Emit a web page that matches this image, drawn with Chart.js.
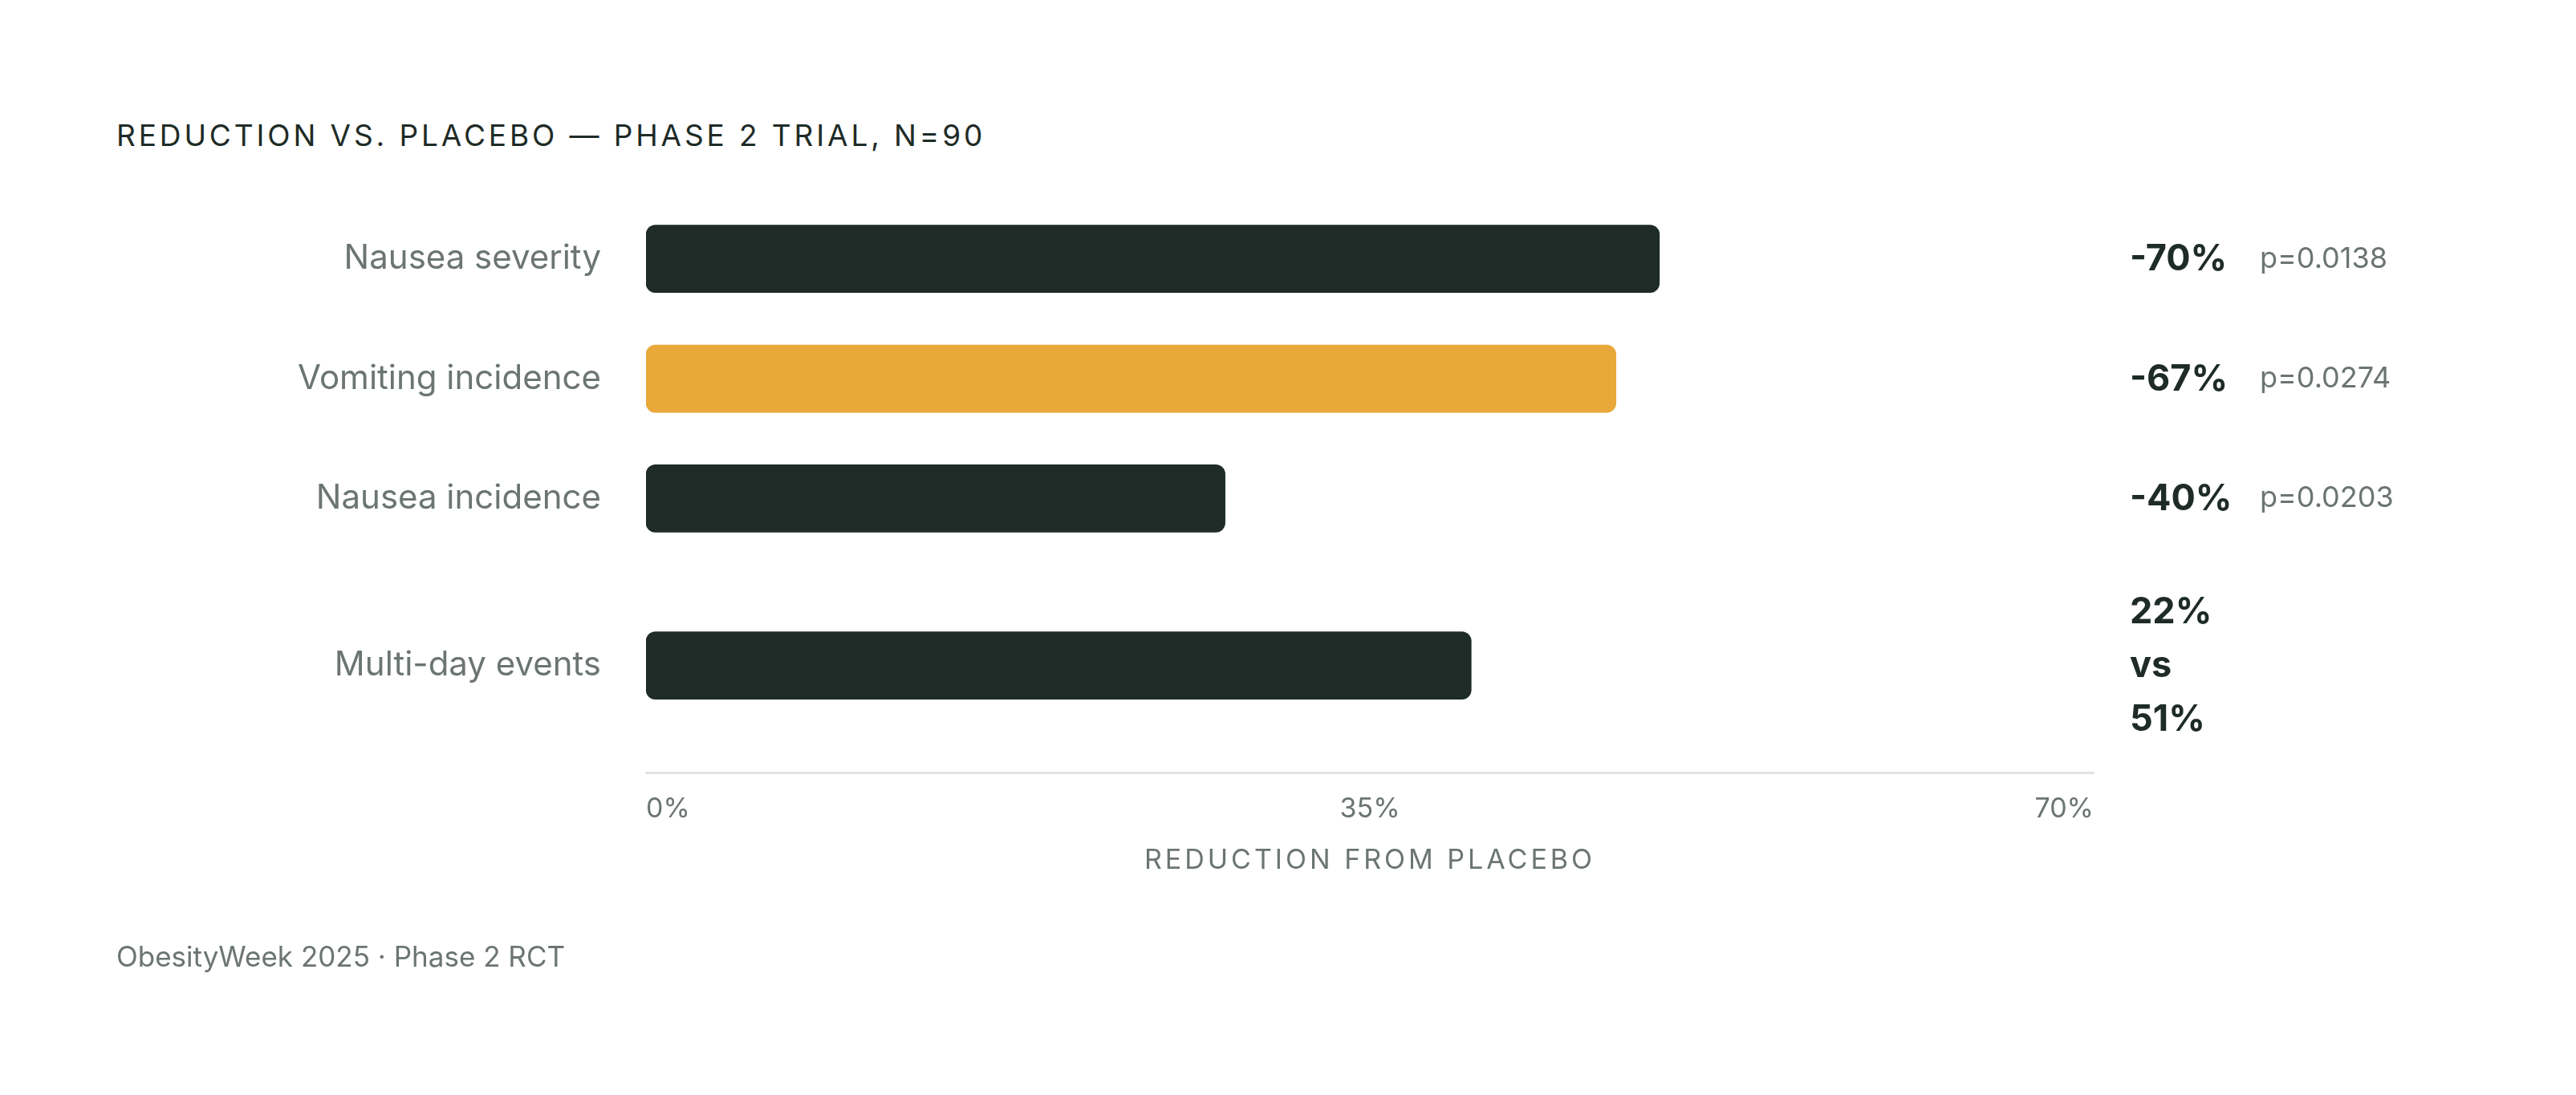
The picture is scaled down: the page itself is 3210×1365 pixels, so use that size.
<!DOCTYPE html>
<html>
<head>
<meta charset="utf-8">
<script src="https://cdn.jsdelivr.net/npm/chart.js@4.4.1/dist/chart.umd.min.js"></script>
<style>
  html, body { margin: 0; padding: 0; background: #ffffff; }
  #wrap { position: relative; width: 3210px; height: 1365px; overflow: hidden; background: #fff; }
  #chartBox { position: absolute; left: 0; top: 0; width: 3210px; height: 1365px; }
  .title { position: absolute; left: 145px; top: 150px; font-family: Inter, "DejaVu Sans", sans-serif; font-size: 37px; line-height: 37px; letter-spacing: 0.105em; color: #1e2b26; white-space: nowrap; }
  .footer { position: absolute; left: 145px; top: 1175px; font-family: Inter, "DejaVu Sans", sans-serif; font-size: 35px; line-height: 35px; color: #6b7571; white-space: nowrap; }
</style>
</head>
<body>
<div id="wrap">
  <div class="title">REDUCTION VS. PLACEBO — PHASE 2 TRIAL, N=90</div>
  <div id="chartBox"><canvas id="c"></canvas></div>
  <div class="footer">ObesityWeek 2025 · Phase 2 RCT</div>
</div>
<script>
// ---- data ----
const categories = ['Nausea severity', 'Vomiting incidence', 'Nausea incidence', 'Multi-day events'];
const reductions = [70, 67, 40, 57];
const valueLabels = [['-70%'], ['-67%'], ['-40%'], ['22%', 'vs', '51%']];
const pValues = ['p=0.0138', 'p=0.0274', 'p=0.0203', ''];
const highlighted = [false, true, false, false];
const tickLabels = ['0%', '35%', '70%'];
const axisTitle = 'REDUCTION FROM PLACEBO';

// ---- style / layout ----
const DARK = '#1e2b26';
const GOLD = '#e8a83a';
const GRAY = '#6b7571';
const FONT = 'Inter, "DejaVu Sans", sans-serif';
const ROW_BASE = 150, ROW_EXTRA_LINE = 59;

const rowHeights = valueLabels.map(l => ROW_BASE + (l.length - 1) * ROW_EXTRA_LINE);
const rowCenters = [];
let acc = 0;
rowHeights.forEach(h => { rowCenters.push(acc + h / 2); acc += h; });
const totalRows = acc;

const annotations = {
  id: 'annotations',
  afterDatasetsDraw(chart) {
    const ctx = chart.ctx;
    const meta = chart.getDatasetMeta(0);
    const area = chart.chartArea;
    ctx.save();
    meta.data.forEach((bar, i) => {
      const lines = valueLabels[i];
      const lh = 67;
      const y0 = bar.y - (lines.length - 1) * lh / 2 + 1;
      ctx.font = '700 45px ' + FONT;
      ctx.fillStyle = DARK;
      ctx.textAlign = 'left';
      ctx.textBaseline = 'middle';
      lines.forEach((t, k) => ctx.fillText(t, area.right + 45, y0 + k * lh));
      if (pValues[i]) {
        ctx.font = '400 36px ' + FONT;
        ctx.fillStyle = GRAY;
        ctx.fillText(pValues[i], area.right + 207, bar.y);
      }
    });
    ctx.restore();
  }
};

const spacedTitle = {
  id: 'spacedTitle',
  afterLayout(chart) {
    const s = chart.scales.x;
    if (s && !s._patched) {
      const orig = s.drawTitle;
      s.drawTitle = function () {
        const ctx = this.ctx;
        ctx.save();
        ctx.letterSpacing = '4px';
        orig.apply(this, arguments);
        ctx.restore();
      };
      s._patched = true;
    }
  }
};

new Chart(document.getElementById('c'), {
  type: 'bar',
  data: {
    datasets: [{
      data: reductions.map((v, i) => ({ x: v, y: rowCenters[i] })),
      backgroundColor: highlighted.map(h => h ? GOLD : DARK),
      borderRadius: 12,
      borderSkipped: false,
      barThickness: 84
    }]
  },
  options: {
    indexAxis: 'y',
    responsive: true,
    maintainAspectRatio: false,
    devicePixelRatio: 1,
    animation: false,
    layout: { padding: { left: 0, right: 601, top: 248, bottom: 252 } },
    plugins: { legend: { display: false }, tooltip: { enabled: false } },
    scales: {
      x: {
        type: 'linear',
        position: 'bottom',
        min: 0,
        max: 100,
        offset: false,
        afterBuildTicks: s => { s.ticks = [0, 50, 100].map(v => ({ value: v })); },
        afterFit: s => { s.height = 150; },
        grid: { display: false, drawTicks: false },
        border: { display: true, color: '#e2e2e2', width: 3 },
        ticks: {
          align: 'inner',
          padding: 25,
          color: GRAY,
          font: { family: FONT, size: 34 },
          callback: (v, i) => tickLabels[i]
        },
        title: {
          display: true,
          text: axisTitle,
          color: GRAY,
          font: { family: FONT, size: 34 },
          padding: { top: 0, bottom: 20 }
        }
      },
      y: {
        type: 'linear',
        reverse: true,
        offset: false,
        min: 0,
        max: totalRows,
        afterBuildTicks: s => { s.ticks = rowCenters.map(v => ({ value: v })); },
        afterFit: s => { s.width = 805; },
        grid: { display: false, drawTicks: false },
        border: { display: false },
        ticks: {
          autoSkip: false,
          padding: 56,
          color: GRAY,
          font: { family: FONT, size: 42 },
          callback: (v, i) => categories[i]
        }
      }
    }
  },
  plugins: [annotations, spacedTitle]
});
</script>
</body>
</html>
